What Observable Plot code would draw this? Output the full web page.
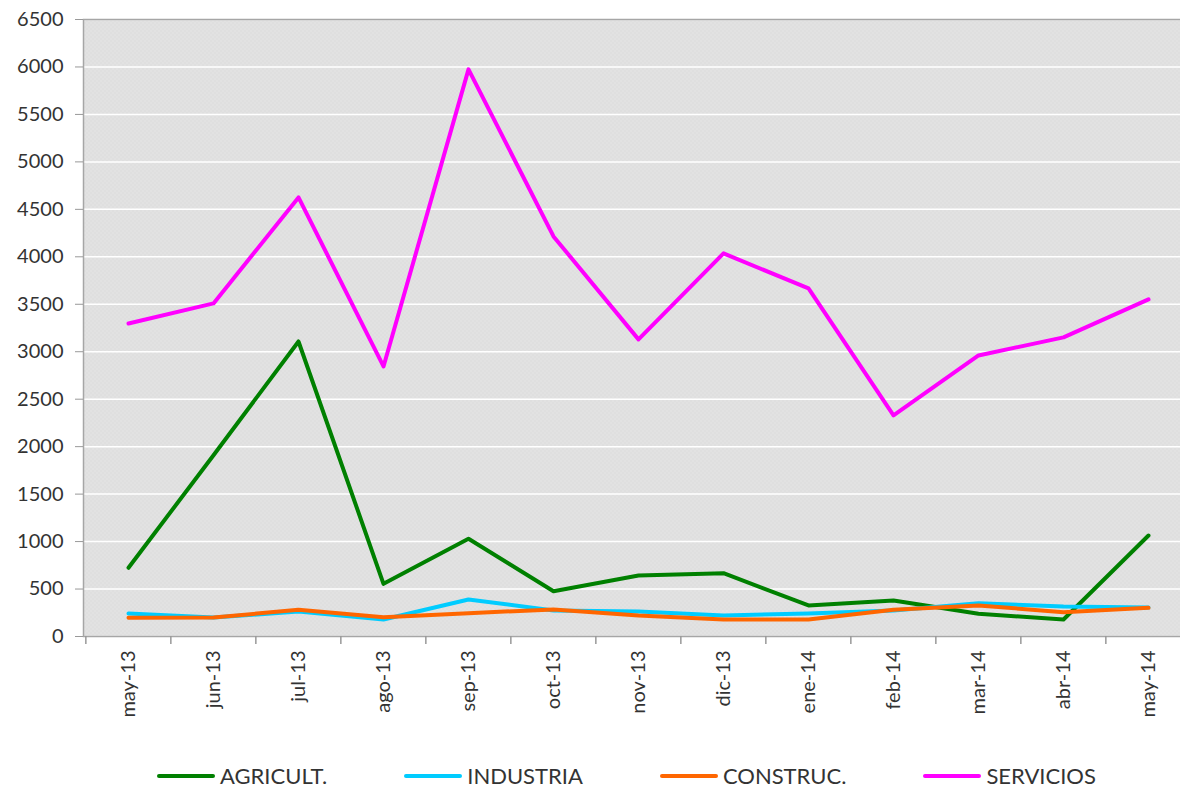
<!DOCTYPE html>
<html>
<head>
<meta charset="utf-8">
<script src="https://cdn.jsdelivr.net/npm/d3@7"></script>
<script src="https://cdn.jsdelivr.net/npm/@observablehq/plot@0.6"></script>
<style>
  html, body { margin: 0; padding: 0; background: #fff; overflow: hidden; width: 1180px; height: 790px; }
  #chart { position: absolute; left: 0; top: 0; width: 1192px; }
  #chart svg { max-width: none !important; }
  #legend { position: absolute; left: 157px; top: 762px; display: flex; align-items: center; gap: 77px;
            font-family: Lato, sans-serif; font-size: 22px; color: #333; white-space: nowrap; }
  .item { display: flex; align-items: center; }
  .sw { display: inline-block; width: 58px; height: 4px; margin-right: 5px; border-radius: 2px; }
</style>
</head>
<body>
<div id="chart"></div>
<div id="legend"></div>
<script>
const months = ["may-13","jun-13","jul-13","ago-13","sep-13","oct-13","nov-13","dic-13","ene-14","feb-14","mar-14","abr-14","may-14"];
const seriesNames = ["AGRICULT.","INDUSTRIA","CONSTRUC.","SERVICIOS"];
const seriesColors = ["#008000","#00ccff","#ff6600","#ff00ff"];
const agricult  = [724, 1910, 3108, 555, 1029, 477, 643, 667, 327, 379, 239, 179, 1064];
const industria = [242, 200, 263, 179, 390, 274, 263, 221, 242, 274, 351, 316, 305];
const construc  = [197, 200, 281, 203, 246, 285, 221, 179, 179, 281, 327, 256, 302];
const servicios = [3298, 3509, 4626, 2845, 5975, 4215, 3130, 4036, 3667, 2329, 2961, 3151, 3551];
const yTicks = [0,500,1000,1500,2000,2500,3000,3500,4000,4500,5000,5500,6000,6500];

const seriesValues = [agricult, industria, construc, servicios];
const data = seriesNames.flatMap((name, i) =>
  months.map((m, j) => ({month: m, value: seriesValues[i][j], series: name})));

const W = 1192, H = 750;
const mL = 83, mT = 19, mB = 114, mR = 0;
const plotH = H - mT - mB;
const step = (W - mL - mR) / months.length;
const tickLen = 8 * 6500 / plotH;

function defs() {
  const d = d3.create("svg:defs");
  const p = d.append("pattern").attr("id", "bgdots").attr("width", 4).attr("height", 4)
    .attr("patternUnits", "userSpaceOnUse");
  p.append("rect").attr("width", 4).attr("height", 4).attr("fill", "#dcdcdc");
  p.append("rect").attr("x", 0).attr("y", 0).attr("width", 1).attr("height", 1).attr("fill", "#f4f4f4");
  p.append("rect").attr("x", 2).attr("y", 2).attr("width", 1).attr("height", 1).attr("fill", "#f4f4f4");
  p.append("rect").attr("x", 2).attr("y", 0).attr("width", 1).attr("height", 1).attr("fill", "#e6e6e6");
  p.append("rect").attr("x", 0).attr("y", 2).attr("width", 1).attr("height", 1).attr("fill", "#e6e6e6");
  return d.node();
}

const chart = Plot.plot({
  width: W, height: H,
  marginLeft: mL, marginTop: mT, marginBottom: mB, marginRight: mR,
  style: {fontFamily: "Lato, sans-serif", fontSize: "20px", color: "#333", background: "transparent", overflow: "visible", maxWidth: "none"},
  x: {type: "point", domain: months, padding: 0.5, label: null},
  y: {domain: [0, 6500], label: null},
  color: {domain: seriesNames, range: seriesColors},
  marks: [
    defs,
    Plot.frame({fill: "url(#bgdots)"}),
    Plot.gridY(yTicks, {stroke: "#ffffff", strokeOpacity: 1, strokeWidth: 1.5}),
    Plot.frame({stroke: "#a6a6a6", strokeWidth: 1.5}),
    Plot.axisY(yTicks, {tickSize: 8, tickPadding: 12, stroke: "#999", fill: "#333", label: null, tickFormat: d => String(d)}),
    Plot.axisX({tickSize: 0, tickPadding: 14, tickRotate: -90, fill: "#333", label: null}),
    Plot.ruleX(months, {x: d => d, dx: -step / 2, y1: 0, y2: -tickLen, stroke: "#999", strokeWidth: 1.5}),
    Plot.line(data, {x: "month", y: "value", z: "series", stroke: "series", strokeWidth: 4})
  ]
});
document.getElementById("chart").append(chart);

const legend = document.getElementById("legend");
seriesNames.forEach((name, i) => {
  const item = document.createElement("div");
  item.className = "item";
  const sw = document.createElement("span");
  sw.className = "sw";
  sw.style.background = seriesColors[i];
  const t = document.createElement("span");
  t.textContent = name;
  item.append(sw, t);
  legend.append(item);
});
</script>
</body>
</html>
